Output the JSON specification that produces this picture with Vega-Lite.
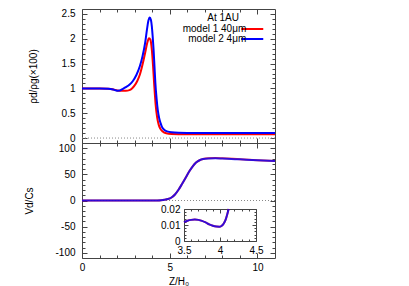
{
  "$schema": "https://vega.github.io/schema/vega-lite/v6.json",
  "width": 409,
  "height": 286,
  "autosize": {"type": "none"},
  "padding": 0,
  "background": "white",
  "config": {
    "view": {"stroke": null},
    "font": "Liberation Sans",
    "axis": {
      "grid": false,
      "domainColor": "#444",
      "tickColor": "#444",
      "domainWidth": 1,
      "tickWidth": 1,
      "labelFont": "Liberation Sans",
      "labelFontSize": 10,
      "labelColor": "#000",
      "titleFont": "Liberation Sans",
      "titleFontSize": 10,
      "titleFontWeight": "normal",
      "titleColor": "#000",
      "labelFlush": false,
      "labelOverlap": false,
      "labelBound": false
    },
    "legend": {
      "labelFont": "Liberation Sans",
      "titleFont": "Liberation Sans"
    }
  },
  "datasets": {
    "top": [
      {"model": "model 1 40μm", "x": 0, "r": 1.0},
      {"model": "model 1 40μm", "x": 0.5, "r": 1.0},
      {"model": "model 1 40μm", "x": 1.0, "r": 1.0},
      {"model": "model 1 40μm", "x": 1.5, "r": 0.995},
      {"model": "model 1 40μm", "x": 1.8, "r": 0.98},
      {"model": "model 1 40μm", "x": 2.0, "r": 0.96},
      {"model": "model 1 40μm", "x": 2.2, "r": 0.953},
      {"model": "model 1 40μm", "x": 2.5, "r": 0.953},
      {"model": "model 1 40μm", "x": 2.7, "r": 0.965},
      {"model": "model 1 40μm", "x": 2.85, "r": 1.0},
      {"model": "model 1 40μm", "x": 3.0, "r": 1.06},
      {"model": "model 1 40μm", "x": 3.15, "r": 1.15},
      {"model": "model 1 40μm", "x": 3.3, "r": 1.28},
      {"model": "model 1 40μm", "x": 3.45, "r": 1.48},
      {"model": "model 1 40μm", "x": 3.6, "r": 1.72},
      {"model": "model 1 40μm", "x": 3.72, "r": 1.92},
      {"model": "model 1 40μm", "x": 3.82, "r": 2.01},
      {"model": "model 1 40μm", "x": 3.9, "r": 1.98},
      {"model": "model 1 40μm", "x": 3.98, "r": 1.78},
      {"model": "model 1 40μm", "x": 4.05, "r": 1.45},
      {"model": "model 1 40μm", "x": 4.12, "r": 1.05},
      {"model": "model 1 40μm", "x": 4.2, "r": 0.66},
      {"model": "model 1 40μm", "x": 4.28, "r": 0.42},
      {"model": "model 1 40μm", "x": 4.37, "r": 0.27},
      {"model": "model 1 40μm", "x": 4.46, "r": 0.19},
      {"model": "model 1 40μm", "x": 4.6, "r": 0.13},
      {"model": "model 1 40μm", "x": 4.8, "r": 0.095},
      {"model": "model 1 40μm", "x": 5.1, "r": 0.082},
      {"model": "model 1 40μm", "x": 6.0, "r": 0.076},
      {"model": "model 1 40μm", "x": 8.0, "r": 0.074},
      {"model": "model 1 40μm", "x": 11.0, "r": 0.074},
      {"model": "model 2 4μm", "x": 0, "r": 1.0},
      {"model": "model 2 4μm", "x": 0.5, "r": 1.0},
      {"model": "model 2 4μm", "x": 1.0, "r": 1.0},
      {"model": "model 2 4μm", "x": 1.5, "r": 0.995},
      {"model": "model 2 4μm", "x": 1.8, "r": 0.975},
      {"model": "model 2 4μm", "x": 2.0, "r": 0.955},
      {"model": "model 2 4μm", "x": 2.15, "r": 0.958},
      {"model": "model 2 4μm", "x": 2.3, "r": 0.985},
      {"model": "model 2 4μm", "x": 2.5, "r": 1.025},
      {"model": "model 2 4μm", "x": 2.7, "r": 1.075},
      {"model": "model 2 4μm", "x": 2.9, "r": 1.15},
      {"model": "model 2 4μm", "x": 3.1, "r": 1.27},
      {"model": "model 2 4μm", "x": 3.3, "r": 1.45},
      {"model": "model 2 4μm", "x": 3.45, "r": 1.65},
      {"model": "model 2 4μm", "x": 3.6, "r": 1.92},
      {"model": "model 2 4μm", "x": 3.7, "r": 2.18},
      {"model": "model 2 4μm", "x": 3.78, "r": 2.36},
      {"model": "model 2 4μm", "x": 3.86, "r": 2.43},
      {"model": "model 2 4μm", "x": 3.93, "r": 2.38},
      {"model": "model 2 4μm", "x": 3.98, "r": 2.25},
      {"model": "model 2 4μm", "x": 4.03, "r": 2.04},
      {"model": "model 2 4μm", "x": 4.08, "r": 1.78},
      {"model": "model 2 4μm", "x": 4.13, "r": 1.45},
      {"model": "model 2 4μm", "x": 4.18, "r": 1.12},
      {"model": "model 2 4μm", "x": 4.25, "r": 0.8},
      {"model": "model 2 4μm", "x": 4.32, "r": 0.56},
      {"model": "model 2 4μm", "x": 4.4, "r": 0.4},
      {"model": "model 2 4μm", "x": 4.48, "r": 0.3},
      {"model": "model 2 4μm", "x": 4.55, "r": 0.23},
      {"model": "model 2 4μm", "x": 4.7, "r": 0.16},
      {"model": "model 2 4μm", "x": 4.85, "r": 0.135},
      {"model": "model 2 4μm", "x": 5.1, "r": 0.115},
      {"model": "model 2 4μm", "x": 5.5, "r": 0.105},
      {"model": "model 2 4μm", "x": 6.5, "r": 0.1},
      {"model": "model 2 4μm", "x": 11.0, "r": 0.1}
    ],
    "vel": [
      {"model": "model 1 40μm", "x": 0, "v": 0},
      {"model": "model 1 40μm", "x": 3.5, "v": 0.012},
      {"model": "model 1 40μm", "x": 4.0, "v": 0.02},
      {"model": "model 1 40μm", "x": 4.3, "v": 0.2},
      {"model": "model 1 40μm", "x": 4.5, "v": 0.6},
      {"model": "model 1 40μm", "x": 4.7, "v": 1.4},
      {"model": "model 1 40μm", "x": 4.9, "v": 2.8},
      {"model": "model 1 40μm", "x": 5.1, "v": 5.8},
      {"model": "model 1 40μm", "x": 5.3, "v": 11.5},
      {"model": "model 1 40μm", "x": 5.5, "v": 20.5},
      {"model": "model 1 40μm", "x": 5.7, "v": 31.5},
      {"model": "model 1 40μm", "x": 5.9, "v": 43},
      {"model": "model 1 40μm", "x": 6.1, "v": 55},
      {"model": "model 1 40μm", "x": 6.3, "v": 65},
      {"model": "model 1 40μm", "x": 6.5, "v": 72.5},
      {"model": "model 1 40μm", "x": 6.7, "v": 77},
      {"model": "model 1 40μm", "x": 6.9, "v": 79.5},
      {"model": "model 1 40μm", "x": 7.2, "v": 81},
      {"model": "model 1 40μm", "x": 7.6, "v": 81.3},
      {"model": "model 1 40μm", "x": 8.0, "v": 80.8},
      {"model": "model 1 40μm", "x": 9.0, "v": 78.9},
      {"model": "model 1 40μm", "x": 10.0, "v": 77.2},
      {"model": "model 1 40μm", "x": 11.0, "v": 75.8},
      {"model": "model 2 4μm", "x": 0, "v": 0},
      {"model": "model 2 4μm", "x": 3.5, "v": 0.012},
      {"model": "model 2 4μm", "x": 4.0, "v": 0.02},
      {"model": "model 2 4μm", "x": 4.3, "v": 0.2},
      {"model": "model 2 4μm", "x": 4.5, "v": 0.6},
      {"model": "model 2 4μm", "x": 4.7, "v": 1.4},
      {"model": "model 2 4μm", "x": 4.9, "v": 2.8},
      {"model": "model 2 4μm", "x": 5.1, "v": 5.8},
      {"model": "model 2 4μm", "x": 5.3, "v": 11.5},
      {"model": "model 2 4μm", "x": 5.5, "v": 20.5},
      {"model": "model 2 4μm", "x": 5.7, "v": 31.5},
      {"model": "model 2 4μm", "x": 5.9, "v": 43},
      {"model": "model 2 4μm", "x": 6.1, "v": 55},
      {"model": "model 2 4μm", "x": 6.3, "v": 65},
      {"model": "model 2 4μm", "x": 6.5, "v": 72.5},
      {"model": "model 2 4μm", "x": 6.7, "v": 77},
      {"model": "model 2 4μm", "x": 6.9, "v": 79.3},
      {"model": "model 2 4μm", "x": 7.2, "v": 80.5},
      {"model": "model 2 4μm", "x": 7.6, "v": 80.6},
      {"model": "model 2 4μm", "x": 8.0, "v": 80.2},
      {"model": "model 2 4μm", "x": 9.0, "v": 78.7},
      {"model": "model 2 4μm", "x": 10.0, "v": 77.1},
      {"model": "model 2 4μm", "x": 11.0, "v": 75.8}
    ],
    "inset": [
      {"x": 3.5, "v": 0.0118},
      {"x": 3.55, "v": 0.0127},
      {"x": 3.6, "v": 0.0132},
      {"x": 3.65, "v": 0.0134},
      {"x": 3.7, "v": 0.0132},
      {"x": 3.75, "v": 0.0126},
      {"x": 3.8, "v": 0.0116},
      {"x": 3.85, "v": 0.0104},
      {"x": 3.9, "v": 0.0095},
      {"x": 3.95, "v": 0.009},
      {"x": 3.99, "v": 0.0089},
      {"x": 4.02, "v": 0.0094},
      {"x": 4.05, "v": 0.0108},
      {"x": 4.08, "v": 0.0135},
      {"x": 4.1, "v": 0.0165},
      {"x": 4.12, "v": 0.02}
    ]
  },
  "layer": [
    {
      "data": {"values": [{}]},
      "mark": {"type": "rule", "stroke": "#888", "strokeDash": [1, 2], "strokeWidth": 1},
      "encoding": {
        "x": {"datum": 0, "type": "quantitative",
          "scale": {"domain": [0, 11], "range": [82, 275], "nice": false, "zero": false},
          "axis": {"orient": "top", "offset": -9, "values": [0,1,2,3,4,5,6,7,8,9,10], "labels": false, "title": null,
            "tickSize": {"condition": {"test": "datum.value % 5 === 0", "value": -5}, "value": -3}}},
        "x2": {"datum": 11},
        "y": {"datum": 0, "type": "quantitative",
          "scale": {"domain": [-0.1, 2.6], "range": [143, 9], "nice": false, "zero": false},
          "axis": {"orient": "right", "offset": -134, "values": [0,0.1,0.2,0.3,0.4,0.5,0.6,0.7,0.8,0.9,1,1.1,1.2,1.3,1.4,1.5,1.6,1.7,1.8,1.9,2,2.1,2.2,2.3,2.4,2.5], "labels": false, "title": null,
            "tickSize": {"condition": {"test": "abs(datum.value*2 - round(datum.value*2)) < 1e-6", "value": -5}, "value": -3}}}
      }
    },
    {
      "data": {"name": "top"},
      "mark": {"type": "line", "strokeWidth": 2, "interpolate": "monotone"},
      "encoding": {
        "x": {"field": "x", "type": "quantitative",
          "scale": {"domain": [0, 11], "range": [82, 275], "nice": false, "zero": false},
          "axis": {"orient": "bottom", "offset": -143, "values": [0,1,2,3,4,5,6,7,8,9,10], "labels": false, "title": null,
            "tickSize": {"condition": {"test": "datum.value % 5 === 0", "value": -5}, "value": -3}}},
        "y": {"field": "r", "type": "quantitative",
          "scale": {"domain": [-0.1, 2.6], "range": [143, 9], "nice": false, "zero": false},
          "axis": {"orient": "left", "offset": -82, "values": [0,0.1,0.2,0.3,0.4,0.5,0.6,0.7,0.8,0.9,1,1.1,1.2,1.3,1.4,1.5,1.6,1.7,1.8,1.9,2,2.1,2.2,2.3,2.4,2.5],
            "labelExpr": "abs(datum.value*2 - round(datum.value*2)) < 1e-6 ? '' + datum.value : ''",
            "labelPadding": 12, "title": "ρd/ρg(×100)", "titleX": -44,
            "tickSize": {"condition": {"test": "abs(datum.value*2 - round(datum.value*2)) < 1e-6", "value": -5}, "value": -3}}},
        "color": {"field": "model", "type": "nominal",
          "scale": {"domain": ["model 1 40μm", "model 2 4μm"], "range": ["#ff0000", "#0000ff"]},
          "legend": {"orient": "none", "legendX": 207, "legendY": 13, "title": "At 1AU",
            "titleFontSize": 10, "titleFontWeight": "normal", "titleAnchor": "start", "titleAlign": "right", "titlePadding": 1,
            "labelFontSize": 10, "labelAlign": "right", "labelOffset": -11,
            "symbolType": "M-4,0H4", "symbolSize": 30.25, "symbolStrokeWidth": 2, "symbolOffset": 8.25,
            "rowPadding": -1, "padding": 0}}
      }
    },
    {
      "data": {"values": [{}]},
      "mark": {"type": "rule", "stroke": "#888", "strokeDash": [1, 2], "strokeWidth": 1},
      "encoding": {
        "x": {"datum": 0, "type": "quantitative",
          "scale": {"domain": [0, 11], "range": [82, 275], "nice": false, "zero": false},
          "axis": {"orient": "top", "offset": -143, "values": [0,1,2,3,4,5,6,7,8,9,10], "labels": false, "title": null,
            "tickSize": {"condition": {"test": "datum.value % 5 === 0", "value": -5}, "value": -3}}},
        "x2": {"datum": 11},
        "y": {"datum": 0, "type": "quantitative",
          "scale": {"domain": [-110, 110], "range": [258, 143], "nice": false, "zero": false},
          "axis": {"orient": "right", "offset": -134, "values": [-100,-90,-80,-70,-60,-50,-40,-30,-20,-10,0,10,20,30,40,50,60,70,80,90,100], "labels": false, "title": null,
            "tickSize": {"condition": {"test": "datum.value % 50 === 0", "value": -5}, "value": -3}}}
      }
    },
    {
      "data": {"name": "vel"},
      "mark": {"type": "line", "strokeWidth": 2, "interpolate": "monotone", "opacity": 0.8},
      "encoding": {
        "x": {"field": "x", "type": "quantitative",
          "scale": {"domain": [0, 11], "range": [82, 275], "nice": false, "zero": false},
          "axis": {"orient": "bottom", "offset": -28, "values": [0,1,2,3,4,5,6,7,8,9,10],
            "labelExpr": "datum.value % 5 === 0 ? '' + datum.value : ''",
            "labelPadding": 9, "title": "Z/H₀", "titlePadding": 2,
            "tickSize": {"condition": {"test": "datum.value % 5 === 0", "value": -5}, "value": -3}}},
        "y": {"field": "v", "type": "quantitative",
          "scale": {"domain": [-110, 110], "range": [258, 143], "nice": false, "zero": false},
          "axis": {"orient": "left", "offset": -82, "values": [-100,-90,-80,-70,-60,-50,-40,-30,-20,-10,0,10,20,30,40,50,60,70,80,90,100],
            "labelExpr": "datum.value % 50 === 0 ? '' + datum.value : ''",
            "labelPadding": 12, "title": "Vd/Cs", "titleX": -48,
            "tickSize": {"condition": {"test": "datum.value % 50 === 0", "value": -5}, "value": -3}}},
        "color": {"field": "model", "type": "nominal",
          "scale": {"domain": ["model 1 40μm", "model 2 4μm"], "range": ["#ff0000", "#0000ff"]},
          "legend": null}
      }
    },
    {
      "data": {"name": "inset"},
      "mark": {"type": "line", "strokeWidth": 2, "interpolate": "monotone", "stroke": "#ff0000", "opacity": 0.8},
      "encoding": {
        "x": {"field": "x", "type": "quantitative",
          "scale": {"domain": [3.5, 4.5], "range": [184, 256], "nice": false, "zero": false},
          "axis": {"orient": "bottom", "offset": -45, "values": [3.5,3.6,3.7,3.8,3.9,4,4.1,4.2,4.3,4.4,4.5],
            "labelExpr": "abs(datum.value*2 - round(datum.value*2)) < 1e-6 ? '' + datum.value : ''",
            "labelPadding": 8, "title": null,
            "tickSize": {"condition": {"test": "abs(datum.value*2 - round(datum.value*2)) < 1e-6", "value": -4}, "value": -2}}},
        "y": {"field": "v", "type": "quantitative",
          "scale": {"domain": [0, 0.02], "range": [241, 209], "nice": false, "zero": false},
          "axis": {"orient": "left", "offset": -184, "values": [0,0.002,0.004,0.006,0.008,0.01,0.012,0.014,0.016,0.018,0.02],
            "labelExpr": "abs(datum.value*100 - round(datum.value*100)) < 1e-6 ? '' + datum.value : ''",
            "labelPadding": 8, "title": null,
            "tickSize": {"condition": {"test": "abs(datum.value*100 - round(datum.value*100)) < 1e-6", "value": -4}, "value": -2}}}
      }
    },
    {
      "data": {"name": "inset"},
      "mark": {"type": "line", "strokeWidth": 2, "interpolate": "monotone", "stroke": "#0000ff", "opacity": 0.8},
      "encoding": {
        "x": {"field": "x", "type": "quantitative",
          "scale": {"domain": [3.5, 4.5], "range": [184, 256], "nice": false, "zero": false},
          "axis": {"orient": "top", "offset": -209, "values": [3.5,3.6,3.7,3.8,3.9,4,4.1,4.2,4.3,4.4,4.5], "labels": false, "title": null,
            "tickSize": {"condition": {"test": "abs(datum.value*2 - round(datum.value*2)) < 1e-6", "value": -4}, "value": -2}}},
        "y": {"field": "v", "type": "quantitative",
          "scale": {"domain": [0, 0.02], "range": [241, 209], "nice": false, "zero": false},
          "axis": {"orient": "right", "offset": -153, "values": [0,0.002,0.004,0.006,0.008,0.01,0.012,0.014,0.016,0.018,0.02], "labels": false, "title": null,
            "tickSize": {"condition": {"test": "abs(datum.value*100 - round(datum.value*100)) < 1e-6", "value": -4}, "value": -2}}}
      }
    }
  ],
  "resolve": {
    "scale": {"x": "independent", "y": "independent", "color": "independent"},
    "axis": {"x": "independent", "y": "independent"},
    "legend": {"color": "independent"}
  }
}
